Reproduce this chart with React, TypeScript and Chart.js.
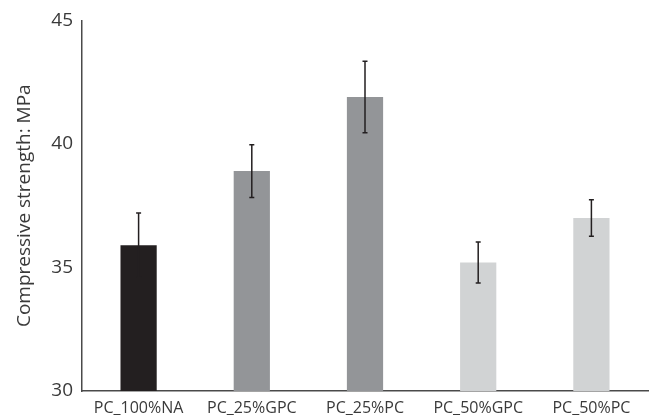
import React, { useEffect, useRef } from "react";
import { Chart, registerables } from "chart.js";

Chart.register(...registerables);

const categories = ["PC_100%NA", "PC_25%GPC", "PC_25%PC", "PC_50%GPC", "PC_50%PC"];
const strengths = [35.9, 38.9, 41.9, 35.2, 37.0];
const errors = [1.3, 1.07, 1.45, 0.83, 0.74];
const barColors = ["#231f20", "#939598", "#939598", "#d1d3d4", "#d1d3d4"];
const yTicks = [30, 35, 40, 45];

const errorBarPlugin = {
  id: "errorBars",
  afterDatasetsDraw(chart: any) {
    const ctx = chart.ctx;
    const meta = chart.getDatasetMeta(0);
    const yScale = chart.scales.y;
    ctx.save();
    ctx.strokeStyle = "#231f20";
    ctx.lineWidth = 1.5;
    meta.data.forEach((bar: any, i: number) => {
      const v = strengths[i];
      const e = errors[i];
      const x = bar.x;
      const yTop = yScale.getPixelForValue(v + e);
      const yBot = yScale.getPixelForValue(v - e);
      ctx.beginPath();
      ctx.moveTo(x, yTop);
      ctx.lineTo(x, yBot);
      ctx.moveTo(x - 2.5, yTop);
      ctx.lineTo(x + 2.5, yTop);
      ctx.moveTo(x - 2.5, yBot);
      ctx.lineTo(x + 2.5, yBot);
      ctx.stroke();
    });
    ctx.restore();
  },
};

export default function App() {
  const ref = useRef<HTMLCanvasElement | null>(null);
  useEffect(() => {
    document.body.style.margin = "0";
    const chart = new Chart(ref.current as HTMLCanvasElement, {
      type: "bar",
      data: {
        labels: categories,
        datasets: [
          {
            data: strengths,
            backgroundColor: barColors,
            barPercentage: 0.32,
            categoryPercentage: 1,
          },
        ],
      },
      options: {
        animation: false,
        responsive: false,
        maintainAspectRatio: false,
        layout: { padding: { top: 18, right: 1, left: 0, bottom: 0 } },
        plugins: { legend: { display: false }, tooltip: { enabled: false } },
        scales: {
          x: {
            grid: { display: false, drawTicks: false },
            border: { display: true, color: "#4a4a4a", width: 1.5 },
            ticks: {
              color: "#3a3a3a",
              font: { family: "Open Sans", size: 16 },
              padding: 8,
              maxRotation: 0,
              autoSkip: false,
            },
            afterFit: (s: any) => {
              s.height = 25;
            },
          },
          y: {
            min: 30,
            max: 45,
            afterBuildTicks: (s: any) => {
              s.ticks = yTicks.map((v) => ({ value: v }));
            },
            grid: { display: false, drawTicks: false },
            border: { display: true, color: "#4a4a4a", width: 1.5 },
            ticks: {
              color: "#3a3a3a",
              font: { family: "Open Sans", size: 19 },
              padding: 9,
            },
            title: {
              display: true,
              text: "Compressive strength: MPa",
              color: "#3a3a3a",
              font: { family: "Open Sans", size: 19 },
              padding: { top: 13, bottom: 0 },
            },
            afterFit: (s: any) => {
              s.width = 82;
            },
          },
        },
      },
      plugins: [errorBarPlugin],
    });
    return () => chart.destroy();
  }, []);
  return (
    <div style={{ width: 649, height: 416 }}>
      <canvas ref={ref} width={649} height={416} style={{ width: 649, height: 416 }} />
    </div>
  );
}
